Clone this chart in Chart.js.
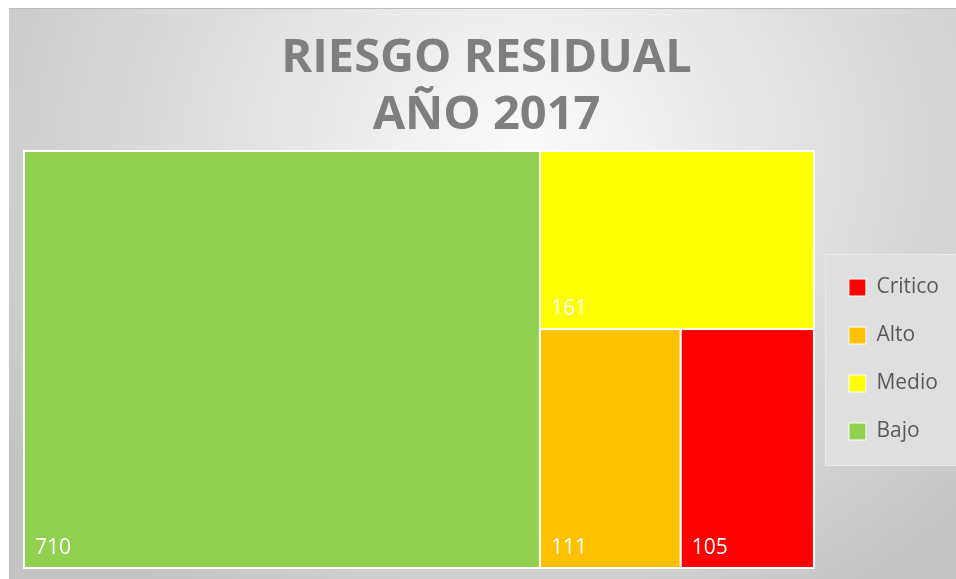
<!DOCTYPE html>
<html><head><meta charset="utf-8">
<script src="https://cdn.jsdelivr.net/npm/chart.js@4/dist/chart.umd.min.js"></script>
<style>
html,body{margin:0;padding:0;background:#fff;width:956px;height:579px;overflow:hidden;}
#wrap{position:absolute;left:9px;top:8px;width:947px;height:570px;border-top:1px solid #bdbdbd;
background:radial-gradient(ellipse 620px 540px at 515px 140px,#fbfbfb 0%,#c4c4c4 100%);}
canvas{display:block;}
</style></head><body>
<div id="wrap"><canvas id="c" width="947" height="570"></canvas></div>
<script>
const titleLines = ['RIESGO RESIDUAL', 'AÑO 2017'];
const categories = ['Critico', 'Alto', 'Medio', 'Bajo'];
const values = [105, 111, 161, 710];
const colors = ['#ff0000', '#ffc000', '#ffff00', '#92d050'];

function worst(row, side) {
  const s = row.reduce((a, b) => a + b, 0);
  const mx = Math.max(...row), mn = Math.min(...row);
  return Math.max(side * side * mx / (s * s), (s * s) / (side * side * mn));
}
function squarify(items, rect) {
  const total = items.reduce((a, b) => a + b.value, 0);
  const k = rect.w * rect.h / total;
  const areas = items.map(it => ({ item: it, a: it.value * k }));
  const out = [];
  const r = { ...rect };
  let row = [];
  const place = (row) => {
    const s = row.reduce((a, b) => a + b.a, 0);
    if (r.w >= r.h) {
      const t = s / r.h; let yy = r.y;
      row.forEach(e => { const hh = e.a / t; out.push({ item: e.item, x: r.x, y: yy, w: t, h: hh }); yy += hh; });
      r.x += t; r.w -= t;
    } else {
      const t = s / r.w; let xx = r.x;
      row.forEach(e => { const ww = e.a / t; out.push({ item: e.item, x: xx, y: r.y, w: ww, h: t }); xx += ww; });
      r.y += t; r.h -= t;
    }
  };
  let i = 0;
  while (i < areas.length) {
    const side = Math.min(r.w, r.h);
    const cand = row.concat([areas[i]]);
    if (row.length === 0 || worst(cand.map(e => e.a), side) <= worst(row.map(e => e.a), side)) {
      row = cand; i++;
    } else { place(row); row = []; }
  }
  if (row.length) place(row);
  return out;
}

const treemapPlugin = {
  id: 'treemap',
  beforeDraw(chart) {
    const hb = chart.legend && chart.legend.legendHitBoxes;
    if (!hb || !hb.length) return;
    const ctx = chart.ctx;
    const top = Math.min(...hb.map(h => h.top)) - 23;
    const bottom = Math.max(...hb.map(h => h.top + h.height)) + 24;
    const left = Math.min(...hb.map(h => h.left)) - 24;
    ctx.save();
    ctx.fillStyle = '#dfdfdf';
    ctx.fillRect(left, top, chart.width - left, bottom - top);
    ctx.strokeStyle = 'rgba(255,255,255,0.35)';
    ctx.lineWidth = 1;
    ctx.strokeRect(left + 0.5, top + 0.5, chart.width - left, bottom - top - 1);
    ctx.restore();
  },
  beforeDatasetsDraw(chart) {
    const { ctx, chartArea: ca, scales: { x, y } } = chart;
    const A = ca.width / ca.height;
    const items = categories.map((c, i) => ({ label: c, value: values[i], color: colors[i] }))
      .sort((a, b) => b.value - a.value);
    const rects = squarify(items, { x: 0, y: 0, w: A, h: 1 });
    ctx.save();
    rects.forEach(r => {
      const x0 = x.getPixelForValue(r.x / A), x1 = x.getPixelForValue((r.x + r.w) / A);
      const y0 = y.getPixelForValue(r.y), y1 = y.getPixelForValue(r.y + r.h);
      const left = Math.min(x0, x1), top = Math.min(y0, y1);
      const w = Math.abs(x1 - x0), h = Math.abs(y1 - y0);
      ctx.fillStyle = r.item.color;
      ctx.fillRect(left, top, w, h);
      ctx.strokeStyle = '#ffffff';
      ctx.lineWidth = 2;
      ctx.strokeRect(left, top, w, h);
      ctx.fillStyle = '#ffffff';
      ctx.font = "21px 'Open Sans'";
      ctx.textBaseline = 'alphabetic';
      ctx.textAlign = 'left';
      ctx.fillText(String(r.item.value), left + 11, top + h - 14);
    });
    ctx.restore();
  }
};

Chart.defaults.font.family = "'Open Sans', sans-serif";

new Chart(document.getElementById('c'), {
  type: 'scatter',
  data: {
    datasets: categories.map((c, i) => ({
      label: c,
      data: [],
      backgroundColor: colors[i],
      borderColor: '#ffffff',
      borderWidth: 1
    }))
  },
  options: {
    responsive: false,
    animation: false,
    layout: { padding: { left: 15, right: 7, top: 0, bottom: 11 } },
    scales: {
      x: { type: 'linear', min: 0, max: 1, display: false },
      y: {
        type: 'linear', min: 0, max: 1, reverse: true, position: 'right',
        display: true,
        ticks: { display: false },
        grid: { display: false },
        border: { display: false },
        afterFit(s) { s.width = 8; }
      }
    },
    plugins: {
      title: {
        display: true,
        text: titleLines,
        color: '#7f7f7f',
        font: { size: 47, weight: 'bold', lineHeight: 1.213 },
        padding: { top: 21, bottom: 7 }
      },
      legend: {
        position: 'right',
        fullSize: false,
        onClick: null,
        labels: {
          color: '#595959',
          font: { size: 21 },
          boxWidth: 17,
          boxHeight: 17,
          padding: 27
        }
      },
      tooltip: { enabled: false }
    }
  },
  plugins: [treemapPlugin]
});
</script>
</body></html>
